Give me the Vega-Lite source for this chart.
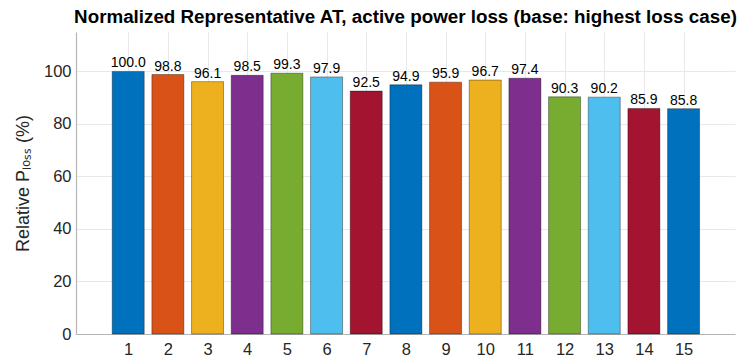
{
  "$schema": "https://vega.github.io/schema/vega-lite/v6.json",
  "width": 659,
  "height": 302,
  "autosize": {"type": "none"},
  "padding": {"left": 76, "top": 32, "right": 4, "bottom": 26},
  "background": "white",
  "config": {
    "font": "Liberation Sans",
    "view": {"stroke": null},
    "axis": {"labelFont": "Liberation Sans", "titleFont": "Liberation Sans"}
  },
  "title": {
    "text": "Normalized Representative AT, active power loss (base: highest loss case)",
    "font": "Liberation Sans",
    "fontSize": 18.8,
    "fontWeight": "bold",
    "color": "#000000",
    "anchor": "middle",
    "offset": 5
  },
  "data": {
    "values": [
      {"case": 1, "loss": 100.0},
      {"case": 2, "loss": 98.8},
      {"case": 3, "loss": 96.1},
      {"case": 4, "loss": 98.5},
      {"case": 5, "loss": 99.3},
      {"case": 6, "loss": 97.9},
      {"case": 7, "loss": 92.5},
      {"case": 8, "loss": 94.9},
      {"case": 9, "loss": 95.9},
      {"case": 10, "loss": 96.7},
      {"case": 11, "loss": 97.4},
      {"case": 12, "loss": 90.3},
      {"case": 13, "loss": 90.2},
      {"case": 14, "loss": 85.9},
      {"case": 15, "loss": 85.8}
    ]
  },
  "encoding": {
    "x": {
      "field": "case",
      "type": "quantitative",
      "scale": {"domain": [-0.19, 16.17], "nice": false, "zero": false},
      "axis": {
        "values": [1,2,3,4,5,6,7,8,9,10,11,12,13,14,15],
        "title": null,
        "grid": true,
        "gridColor": "#e8e8e8",
        "gridWidth": 1,
        "ticks": false,
        "labelFontSize": 16.5,
        "labelColor": "#262626",
        "labelPadding": 7,
        "domainColor": "#b5b5b5",
        "domainWidth": 1.2,
        "labelFlush": false
      }
    },
    "y": {
      "field": "loss",
      "type": "quantitative",
      "scale": {"domain": [0, 115], "nice": false},
      "axis": {
        "values": [0, 20, 40, 60, 80, 100],
        "title": "Relative Pₗₒₛₛ (%)",
        "titleFontSize": 18,
        "titleFontWeight": "normal",
        "titleColor": "#262626",
        "titlePadding": 11,
        "grid": true,
        "gridColor": "#e8e8e8",
        "gridWidth": 1,
        "ticks": false,
        "labelFontSize": 16.5,
        "labelColor": "#262626",
        "labelPadding": 5,
        "domainColor": "#b5b5b5",
        "domainWidth": 1.2
      }
    }
  },
  "layer": [
    {
      "mark": {"type": "bar", "size": 32, "stroke": "#000000", "strokeWidth": 0.6, "strokeOpacity": 0.6},
      "encoding": {
        "color": {
          "field": "case",
          "type": "nominal",
          "sort": null,
          "scale": {
            "domain": [1,2,3,4,5,6,7,8,9,10,11,12,13,14,15],
            "range": ["#0072BD", "#D95319", "#EDB120", "#7E2F8E", "#77AC30", "#4DBEEE", "#A2142F", "#0072BD", "#D95319", "#EDB120", "#7E2F8E", "#77AC30", "#4DBEEE", "#A2142F", "#0072BD"]
          },
          "legend": null
        }
      }
    },
    {
      "mark": {"type": "text", "baseline": "bottom", "dy": -1, "fontSize": 14, "color": "#000000", "font": "Liberation Sans"},
      "encoding": {
        "text": {"field": "loss", "type": "quantitative", "format": ".1f"}
      }
    }
  ]
}
